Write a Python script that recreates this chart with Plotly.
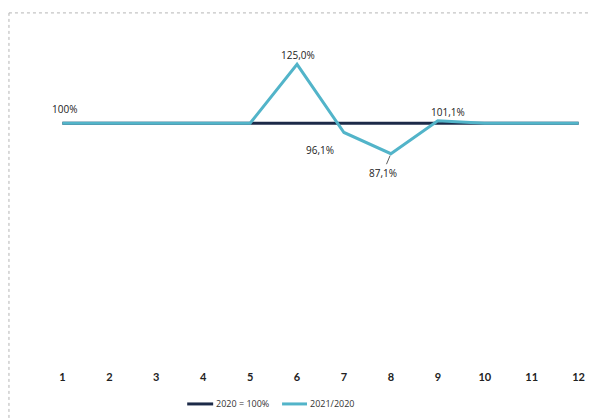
import plotly.graph_objects as go

months = [1, 2, 3, 4, 5, 6, 7, 8, 9, 10, 11, 12]
base_2020 = [100, 100, 100, 100, 100, 100, 100, 100, 100, 100, 100, 100]
ratio_2021_2020 = [100, 100, 100, 100, 100, 125.0, 96.1, 87.1, 101.1, 100, 100, 100]
label_points = [(1, "100%"), (6, "125,0%"), (7, "96,1%"), (8, "87,1%"), (9, "101,1%")]
series_names = ["2020 = 100%", "2021/2020"]

DARK = "#1c2a48"
LIGHT = "#52b4c9"

# page body has an 8px margin; figure sized to fill the rest of the window
W, H = 590, 411
ml, mr, mt, mb = 44.6, 9.6, 20.6, 60
pw, ph = W - ml - mr, H - mt - mb

def px_x(p):
    return (p - ml) / pw

def px_y(p):
    return (H - mb - p) / ph

fig = go.Figure()
fig.add_trace(go.Scatter(x=months, y=base_2020, mode="lines", name=series_names[0],
                         line=dict(color=DARK, width=3)))
fig.add_trace(go.Scatter(x=months, y=ratio_2021_2020, mode="lines", name=series_names[1],
                         line=dict(color=LIGHT, width=3)))

offsets = {1: (2, 14), 6: (1, 9), 7: (-24, -18), 9: (10, 9)}
yv = dict(zip(months, ratio_2021_2020))
lab_font = dict(family="Open Sans", size=10, color="#222")
for m, txt in label_points:
    if m == 8:
        fig.add_annotation(x=m, y=yv[m], text=txt, showarrow=True, arrowhead=0,
                           arrowwidth=0.8, arrowcolor="#333", ax=-8, ay=19, standoff=2,
                           font=lab_font)
    else:
        dx, dy = offsets[m]
        fig.add_annotation(x=m, y=yv[m], text=txt, showarrow=False, xshift=dx, yshift=dy,
                           font=lab_font)

border = dict(color="#b5b5b5", width=1, dash="dot")
fig.add_shape(type="line", xref="paper", yref="paper", x0=px_x(0.5), x1=px_x(W),
              y0=px_y(4.5), y1=px_y(4.5), line=border)
fig.add_shape(type="line", xref="paper", yref="paper", x0=px_x(0.5), x1=px_x(0.5),
              y0=px_y(4.5), y1=px_y(H), line=border)

# legend drawn at the bottom of the chart area
leg_y = 396
leg_items = [(179, 205, DARK, series_names[0]), (274, 299, LIGHT, series_names[1])]
for x0, x1, col, name in leg_items:
    fig.add_shape(type="line", xref="paper", yref="paper", x0=px_x(x0), x1=px_x(x1),
                  y0=px_y(leg_y), y1=px_y(leg_y), line=dict(color=col, width=3))
    fig.add_annotation(xref="paper", yref="paper", x=px_x(x1 + 1), y=px_y(leg_y),
                       xanchor="left", yanchor="middle", text=name, showarrow=False,
                       font=dict(family="Open Sans", size=9, color="#333"))

fig.update_layout(
    width=W, height=H,
    margin=dict(l=ml, r=mr, t=mt, b=mb, pad=0),
    paper_bgcolor="white", plot_bgcolor="white",
    showlegend=False,
    xaxis=dict(range=[0.8, 12.2], tickmode="array", tickvals=months,
               ticktext=[str(m) for m in months], showgrid=False, zeroline=False,
               showline=False, ticks="outside", ticklen=8, tickcolor="rgba(0,0,0,0)",
               tickfont=dict(family="Lato", size=11, color="#222", weight="bold")),
    yaxis=dict(range=[0, 140], visible=False),
)

fig.write_html("out.html")
